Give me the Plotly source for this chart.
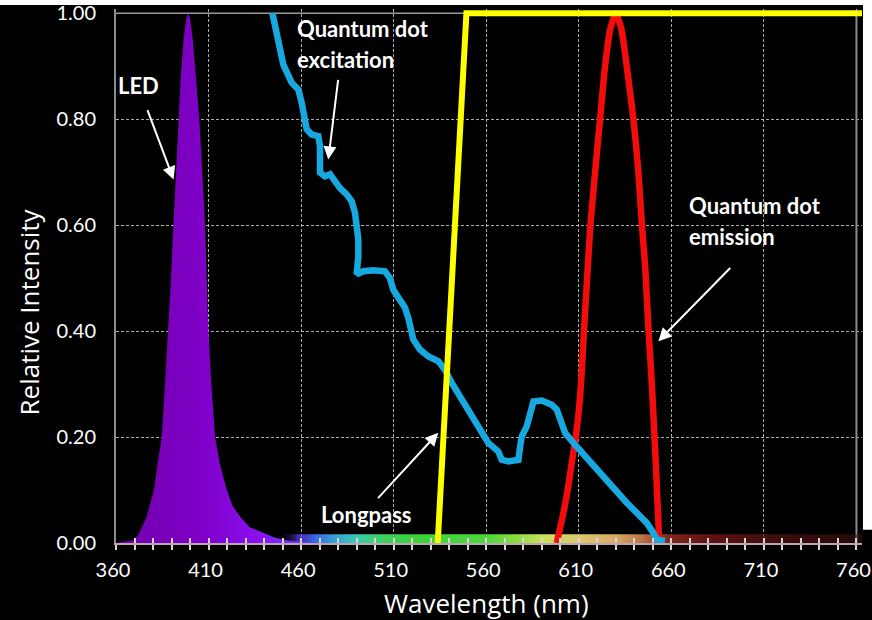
import plotly.graph_objects as go

# ---- Spectra (wavelength in nm, relative intensity) ----
led_wl = [360, 365, 369, 372, 374, 376.6, 378.5, 380.5, 382.5, 384.7, 386.5, 388.3, 389.7,
          391, 392.4, 393.7, 395, 396.5, 398, 399, 400, 401.5, 403, 405, 406.6, 408.1, 409,
          409.9, 411.5, 413.5, 416, 419.8, 423, 427, 432, 439.5, 446, 452, 460, 470]
led_int = [0, 0.002, 0.005, 0.015, 0.03, 0.05, 0.075, 0.10, 0.15, 0.20, 0.30, 0.40, 0.50,
           0.60, 0.70, 0.80, 0.88, 0.95, 0.99, 1.00, 0.99, 0.95, 0.88, 0.80, 0.70, 0.60, 0.50,
           0.40, 0.30, 0.20, 0.15, 0.10, 0.07, 0.05, 0.03, 0.02, 0.01, 0.005, 0.002, 0]

qd_exc_wl = [444.5, 447.7, 450.4, 454.9, 458.5, 460.3, 462.1, 463.0, 465.7, 469.3, 470.2, 470.2,
             472.9, 475.6, 478.3, 481.0, 484.6, 487.3, 489.1, 490.0, 490.9, 490.9, 490.0, 493.6,
             499.0, 505.3, 508.0, 509.8, 513.4, 516.1, 517.9, 519.7, 520.6, 524.2, 528.8, 534.2,
             537.7, 541.4, 545.8, 551.2, 556.7, 561.1, 566.5, 568.4, 572.0, 577.4, 578.3, 579.2,
             581.9, 583.7, 585.5, 590.0, 595.4, 598.1, 599.9, 602.6, 607.1, 612.5, 617.9, 623.3,
             630.5, 635.9, 641.3, 646.7, 650.3, 652.2, 656.6]
qd_exc_int = [1.00, 0.95, 0.903, 0.869, 0.856, 0.831, 0.803, 0.781, 0.771, 0.768, 0.749, 0.699,
              0.692, 0.696, 0.683, 0.670, 0.658, 0.645, 0.623, 0.598, 0.573, 0.541, 0.507, 0.513,
              0.515, 0.513, 0.500, 0.478, 0.459, 0.444, 0.425, 0.403, 0.384, 0.365, 0.352, 0.343,
              0.327, 0.302, 0.277, 0.246, 0.214, 0.189, 0.173, 0.157, 0.154, 0.157, 0.182, 0.201,
              0.220, 0.246, 0.267, 0.269, 0.261, 0.252, 0.233, 0.208, 0.189, 0.167, 0.145, 0.123,
              0.094, 0.076, 0.057, 0.038, 0.019, 0.006, 0.004]

lp_wl = [533.8, 549.3, 763]
lp_int = [0.0, 1.0, 1.0]

qd_em_wl = [598.1, 601.7, 604.0, 606.2, 608.9, 611.0, 612.8, 614.5, 616.3, 618.8, 621.5, 624.2,
            627.0, 630.0, 633.0, 635.9, 639.5, 642.2, 644.1, 645.9, 647.7, 649.3, 651.2, 652.5,
            653.5]
qd_em_int = [0.0, 0.057, 0.10, 0.151, 0.214, 0.29, 0.40, 0.50, 0.60, 0.70, 0.80, 0.90,
             0.97, 1.00, 0.97, 0.90, 0.80, 0.70, 0.60, 0.52, 0.40, 0.31, 0.18, 0.08, 0.0]

x_tick_vals = [360, 410, 460, 510, 560, 610, 660, 710, 760]
y_tick_vals = [0.0, 0.2, 0.4, 0.6, 0.8, 1.0]
y_tick_text = ["0.00", "0.20", "0.40", "0.60", "0.80", "1.00"]

# ---- Styling ----
FONT = "Lato"
TITLE_FONT = "Open Sans"
GRID = "rgba(215,215,215,0.8)"
WHITE = "#ffffff"
X_MIN, X_MAX = 360, 763

# Visible-spectrum colour stops for the strip along the wavelength axis
spectrum_stops = [
    (360, "rgba(0,0,0,0)"), (448, "rgba(0,0,0,0)"), (458, "rgba(100,60,255,0.7)"),
    (468, "rgba(60,120,255,0.9)"), (478, "rgba(60,170,225,0.95)"), (490, "rgba(60,200,180,1)"),
    (502, "rgba(60,210,100,1)"), (520, "rgba(60,210,60,1)"), (560, "rgba(75,215,60,1)"),
    (575, "rgba(135,220,60,1)"), (590, "rgba(200,225,90,1)"), (610, "rgba(220,200,110,1)"),
    (630, "rgba(215,170,100,1)"), (645, "rgba(180,110,70,1)"), (658, "rgba(130,40,30,1)"),
    (680, "rgba(105,20,20,0.9)"), (720, "rgba(85,20,20,0.7)"), (763, "rgba(70,20,20,0.5)"),
]
spectrum_scale = [[(w - X_MIN) / (X_MAX - X_MIN), c] for w, c in spectrum_stops]
strip_wl = list(range(X_MIN, X_MAX + 1))

fig = go.Figure()

# Colour strip of the visible spectrum just above the wavelength axis
fig.add_trace(go.Heatmap(
    x=strip_wl, y=[0.0, 0.011], z=[strip_wl, strip_wl],
    colorscale=spectrum_scale, zmin=X_MIN, zmax=X_MAX, zsmooth="best",
    showscale=False, hoverinfo="skip",
))

# LED emission: filled purple band
fig.add_trace(go.Scatter(
    x=led_wl, y=led_int, mode="lines", line=dict(width=0, color="#8000cc"),
    fill="tozeroy",
    fillgradient=dict(type="horizontal",
                      colorscale=[[0, "#7200ad"], [0.45, "#8000c8"], [0.75, "#8a10f0"], [1, "#6a40ff"]],
                      start=365, stop=460),
    opacity=0.95, hoverinfo="skip", showlegend=False,
))

# Quantum dot emission
fig.add_trace(go.Scatter(
    x=qd_em_wl, y=qd_em_int, mode="lines",
    line=dict(color="#f20c0c", width=6.5, shape="spline", smoothing=0.6),
    hoverinfo="skip", showlegend=False,
))

# Quantum dot excitation
fig.add_trace(go.Scatter(
    x=qd_exc_wl, y=qd_exc_int, mode="lines", line=dict(color="#18a8e0", width=6.5),
    hoverinfo="skip", showlegend=False,
))

# Longpass filter
fig.add_trace(go.Scatter(
    x=lp_wl, y=lp_int, mode="lines", line=dict(color="#ffff00", width=6),
    hoverinfo="skip", showlegend=False,
))

# Carrier for the overlaid tick axis
fig.add_trace(go.Scatter(x=[X_MIN], y=[0], xaxis="x2", mode="markers",
                         marker=dict(opacity=0), hoverinfo="skip", showlegend=False))

shapes = [
    # solid frame at top and right
    dict(type="line", xref="x", yref="y", x0=360, x1=760, y0=1, y1=1,
         line=dict(color="#9a9a9a", width=1.5), layer="between"),
    dict(type="line", xref="x", yref="y", x0=760, x1=760, y0=0, y1=1,
         line=dict(color="#8a8a8a", width=2), layer="between"),
    # white edge of the canvas
    dict(type="rect", xref="paper", yref="paper", x0=-0.2, x1=1.02, y0=1.0075, y1=1.03,
         fillcolor="white", line=dict(width=0)),
    dict(type="rect", xref="paper", yref="paper", x0=1.0013, x1=1.02, y0=0.025, y1=1.03,
         fillcolor="white", line=dict(width=0)),
]

label_font = dict(family=FONT, size=22, color=WHITE)
annotations = [
    dict(x=371.9, y=0.864, text="<b>LED</b>", showarrow=False, font=label_font,
         xanchor="center", yanchor="middle"),
    dict(x=456.7, y=0.971, text="<b>Quantum dot</b>", showarrow=False, font=label_font,
         xanchor="left", yanchor="middle"),
    dict(x=456.7, y=0.912, text="<b>excitation</b>", showarrow=False, font=label_font,
         xanchor="left", yanchor="middle"),
    dict(x=668.5, y=0.638, text="<b>Quantum dot</b>", showarrow=False, font=label_font,
         xanchor="left", yanchor="middle"),
    dict(x=668.5, y=0.578, text="<b>emission</b>", showarrow=False, font=label_font,
         xanchor="left", yanchor="middle"),
    dict(x=495.4, y=0.053, text="<b>Longpass</b>", showarrow=False, font=label_font,
         xanchor="center", yanchor="middle"),
    # axis titles
    dict(xref="paper", yref="paper", x=0.497, y=-0.112, text="Wavelength (nm)", showarrow=False,
         font=dict(family=TITLE_FONT, size=26, color=WHITE), xanchor="center", yanchor="middle"),
    dict(xref="paper", yref="paper", x=-0.117, y=0.433, text="Relative Intensity", showarrow=False,
         textangle=-90, font=dict(family=TITLE_FONT, size=26, color=WHITE),
         xanchor="center", yanchor="middle"),
]
arrow_style = dict(text="", showarrow=True, arrowhead=2, arrowsize=1.3, arrowwidth=2,
                   arrowcolor=WHITE, axref="x", ayref="y", standoff=0, startstandoff=0)
for head, tail in [((391.1, 0.686), (376.7, 0.820)),
                   ((474.7, 0.724), (480.1, 0.877)),
                   ((653.0, 0.381), (692.6, 0.522)),
                   ((534.1, 0.208), (500.8, 0.082))]:
    annotations.append(dict(x=head[0], y=head[1], ax=tail[0], ay=tail[1], **arrow_style))

fig.update_layout(
    width=872, height=620,
    margin=dict(l=116, r=10, t=9, b=77, autoexpand=False),
    paper_bgcolor="black", plot_bgcolor="black",
    font=dict(family=FONT, color=WHITE),
    showlegend=False,
    shapes=shapes,
    annotations=annotations,
    xaxis=dict(
        range=[X_MIN, X_MAX], tickmode="array", tickvals=x_tick_vals,
        ticktext=[str(v) for v in x_tick_vals],
        tickfont=dict(family=FONT, size=20, color=WHITE),
        ticks="outside", ticklen=5, tickwidth=1.5, tickcolor="#dcd4d4",
        minor=dict(tickmode="linear", tick0=360, dtick=10, ticks="outside", ticklen=5,
                   tickwidth=1.5, tickcolor="#dcd4d4", showgrid=False),
        ticklabelstandoff=3, ticklabelshift=-3, ticklabeloverflow="allow",
        showgrid=True, gridcolor=GRID, gridwidth=1, griddash="3px,2px",
        showline=True, linecolor="rgba(225,190,210,0.85)", linewidth=2,
        zeroline=False, automargin=False,
    ),
    xaxis2=dict(
        overlaying="x", anchor="y", side="bottom", range=[X_MIN, X_MAX],
        tickmode="linear", tick0=360, dtick=10, ticks="inside", ticklen=5, tickwidth=1.5,
        tickcolor="#dcd4d4", showticklabels=False, showgrid=False, showline=False,
        zeroline=False, automargin=False,
    ),
    yaxis=dict(
        range=[0, 1.008], tickmode="array", tickvals=y_tick_vals, ticktext=y_tick_text,
        tickfont=dict(family=FONT, size=20, color=WHITE), ticks="",
        ticklabelstandoff=14, ticklabeloverflow="allow",
        showgrid=True, gridcolor=GRID, gridwidth=1, griddash="3px,2px",
        showline=True, linecolor="#8c8c8c", linewidth=2, zeroline=False, automargin=False,
    ),
)

fig.write_html("out.html")
